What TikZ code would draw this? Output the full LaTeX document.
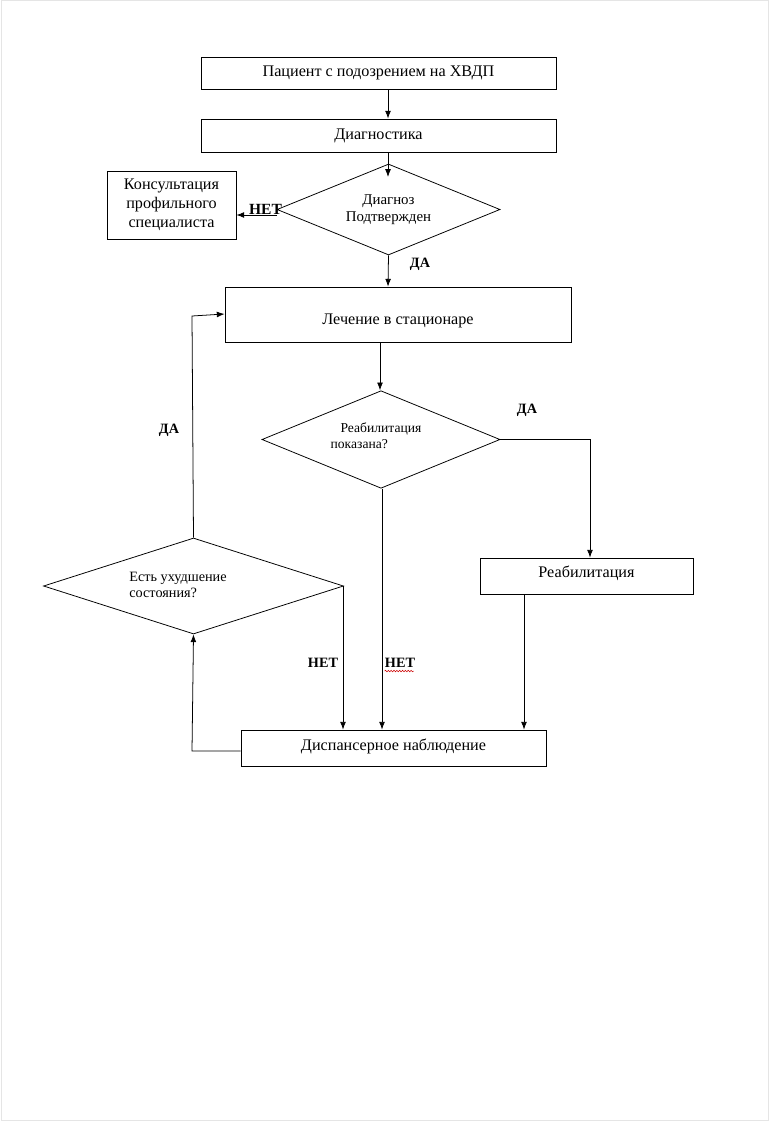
\documentclass[tikz,border=0pt]{standalone}
\usepackage{fontspec}
\setmainfont{Liberation Serif}
\newfontfamily\tnr{Liberation Serif}
\usetikzlibrary{shapes.geometric,arrows.meta,decorations.pathmorphing}
\begin{document}
\begin{tikzpicture}[x=0.773pt,y=-0.773pt,
  line width=0.6pt,
  every node/.style={font=\tnr},
  box/.style={draw,rectangle,inner sep=0pt,font=\tnr\fontsize{12.5}{14.5}\selectfont,align=center},
  dia/.style={draw,diamond,inner sep=0pt,aspect=2.5},
  lbl/.style={font=\tnr\bfseries\fontsize{11}{13}\selectfont,inner sep=0pt},
  arr/.style={-{Latex[length=6pt,width=4.5pt]}},
]
\useasboundingbox (0,0) rectangle (770,1122);
\draw[gray!20,line width=0.8pt] (1.5,0.5) rectangle (768.5,1120.5);

% boxes
\node[box,minimum width=274.4pt,minimum height=24.7pt] (b1) at (378.5,73) {Пациент с подозрением на ХВДП};
\node[box,minimum width=274.4pt,minimum height=25.5pt] (b2) at (378.5,135.5) {Диагностика};
\node[box,minimum width=99.7pt,minimum height=52.6pt,font=\tnr\fontsize{12.5}{14.6}\selectfont] (cons) at (171.5,205) {Консультация\\профильного\\специалиста};
\node[box,minimum width=267.5pt,minimum height=42.5pt,text height=16pt,text depth=0pt] (b3) at (398,314.5) {Лечение в стационаре};
\node[box,minimum width=164.6pt,minimum height=27.8pt,text height=8pt,text depth=5.6pt] (reh) at (586.5,576) {Реабилитация};
\node[box,minimum width=235.8pt,minimum height=27.8pt,text height=8pt,text depth=4pt] (disp) at (393.5,748) {Диспансерное наблюдение};

% diamonds
\node[dia,minimum width=172.4pt,minimum height=70.3pt,font=\tnr\fontsize{11.5}{13.5}\selectfont,align=center] (d1) at (388.5,209.5) {Диагноз\\Подтвержден};
\node[dia,minimum width=184pt,minimum height=75.4pt] (d2) at (381,439.5) {};
\node[font=\tnr\fontsize{10.5}{12.5}\selectfont,align=left,inner sep=0pt] (d2t) at (376,436) {\hspace*{7.7pt}Реабилитация\\показана?};
\node[dia,minimum width=231.9pt,minimum height=74.2pt] (d3) at (193.5,586) {};
\node[font=\tnr\fontsize{11}{13}\selectfont,align=left,inner sep=0pt] (d3t) at (178,585) {Есть ухудшение\\состояния?};

% coordinates
\coordinate (c1) at (590,439.5);
\coordinate (c2) at (343,586);
\coordinate (c3) at (192,751);
\coordinate (c4) at (192,316);

% connectors
\draw[arr] (b1.south -| 388,0) -- (b2.north -| 388,0);
\draw[arr] (b2.south -| 388,0) -- (388,177);
\draw[arr] (277,215) -- (cons.east |- 0,215);
\draw[arr] (d1.south) -- (b3.north -| 388,0);
\draw[arr] (b3.south -| 380,0) -- (d2.north -| 380,0);
\draw[arr] (d2.east) -- (c1) -- (reh.north -| c1);
\draw[arr] (reh.south -| 524,0) -- (disp.north -| 524,0);
\draw[arr] (d2.south -| 382,0) -- (disp.north -| 382,0);
\draw[arr] (d3.east) -- (c2) -- (disp.north -| c2);
\draw[arr] (disp.west |- c3) -- (c3) -- (d3.south);
\draw[arr] (d3.north) -- (c4) -- (b3.west |- 0,314);

% labels
\node[lbl,font=\tnr\bfseries\fontsize{12}{14}\selectfont,anchor=south] (l1) at (265.5,214.5) {НЕТ};
\node[lbl] (l2) at (420,264) {ДА};
\node[lbl] (l3) at (527,410) {ДА};
\node[lbl] (l4) at (169,430) {ДА};
\node[lbl] (l5) at (323,663) {НЕТ};
\node[lbl] (l6) at (400,663) {НЕТ};
\draw[red!80!black,line width=0.4pt,decorate,decoration={snake,amplitude=0.6pt,segment length=2.2pt}] (l6.south west) ++(0,3) -- ++(29,0);
\end{tikzpicture}
\end{document}
